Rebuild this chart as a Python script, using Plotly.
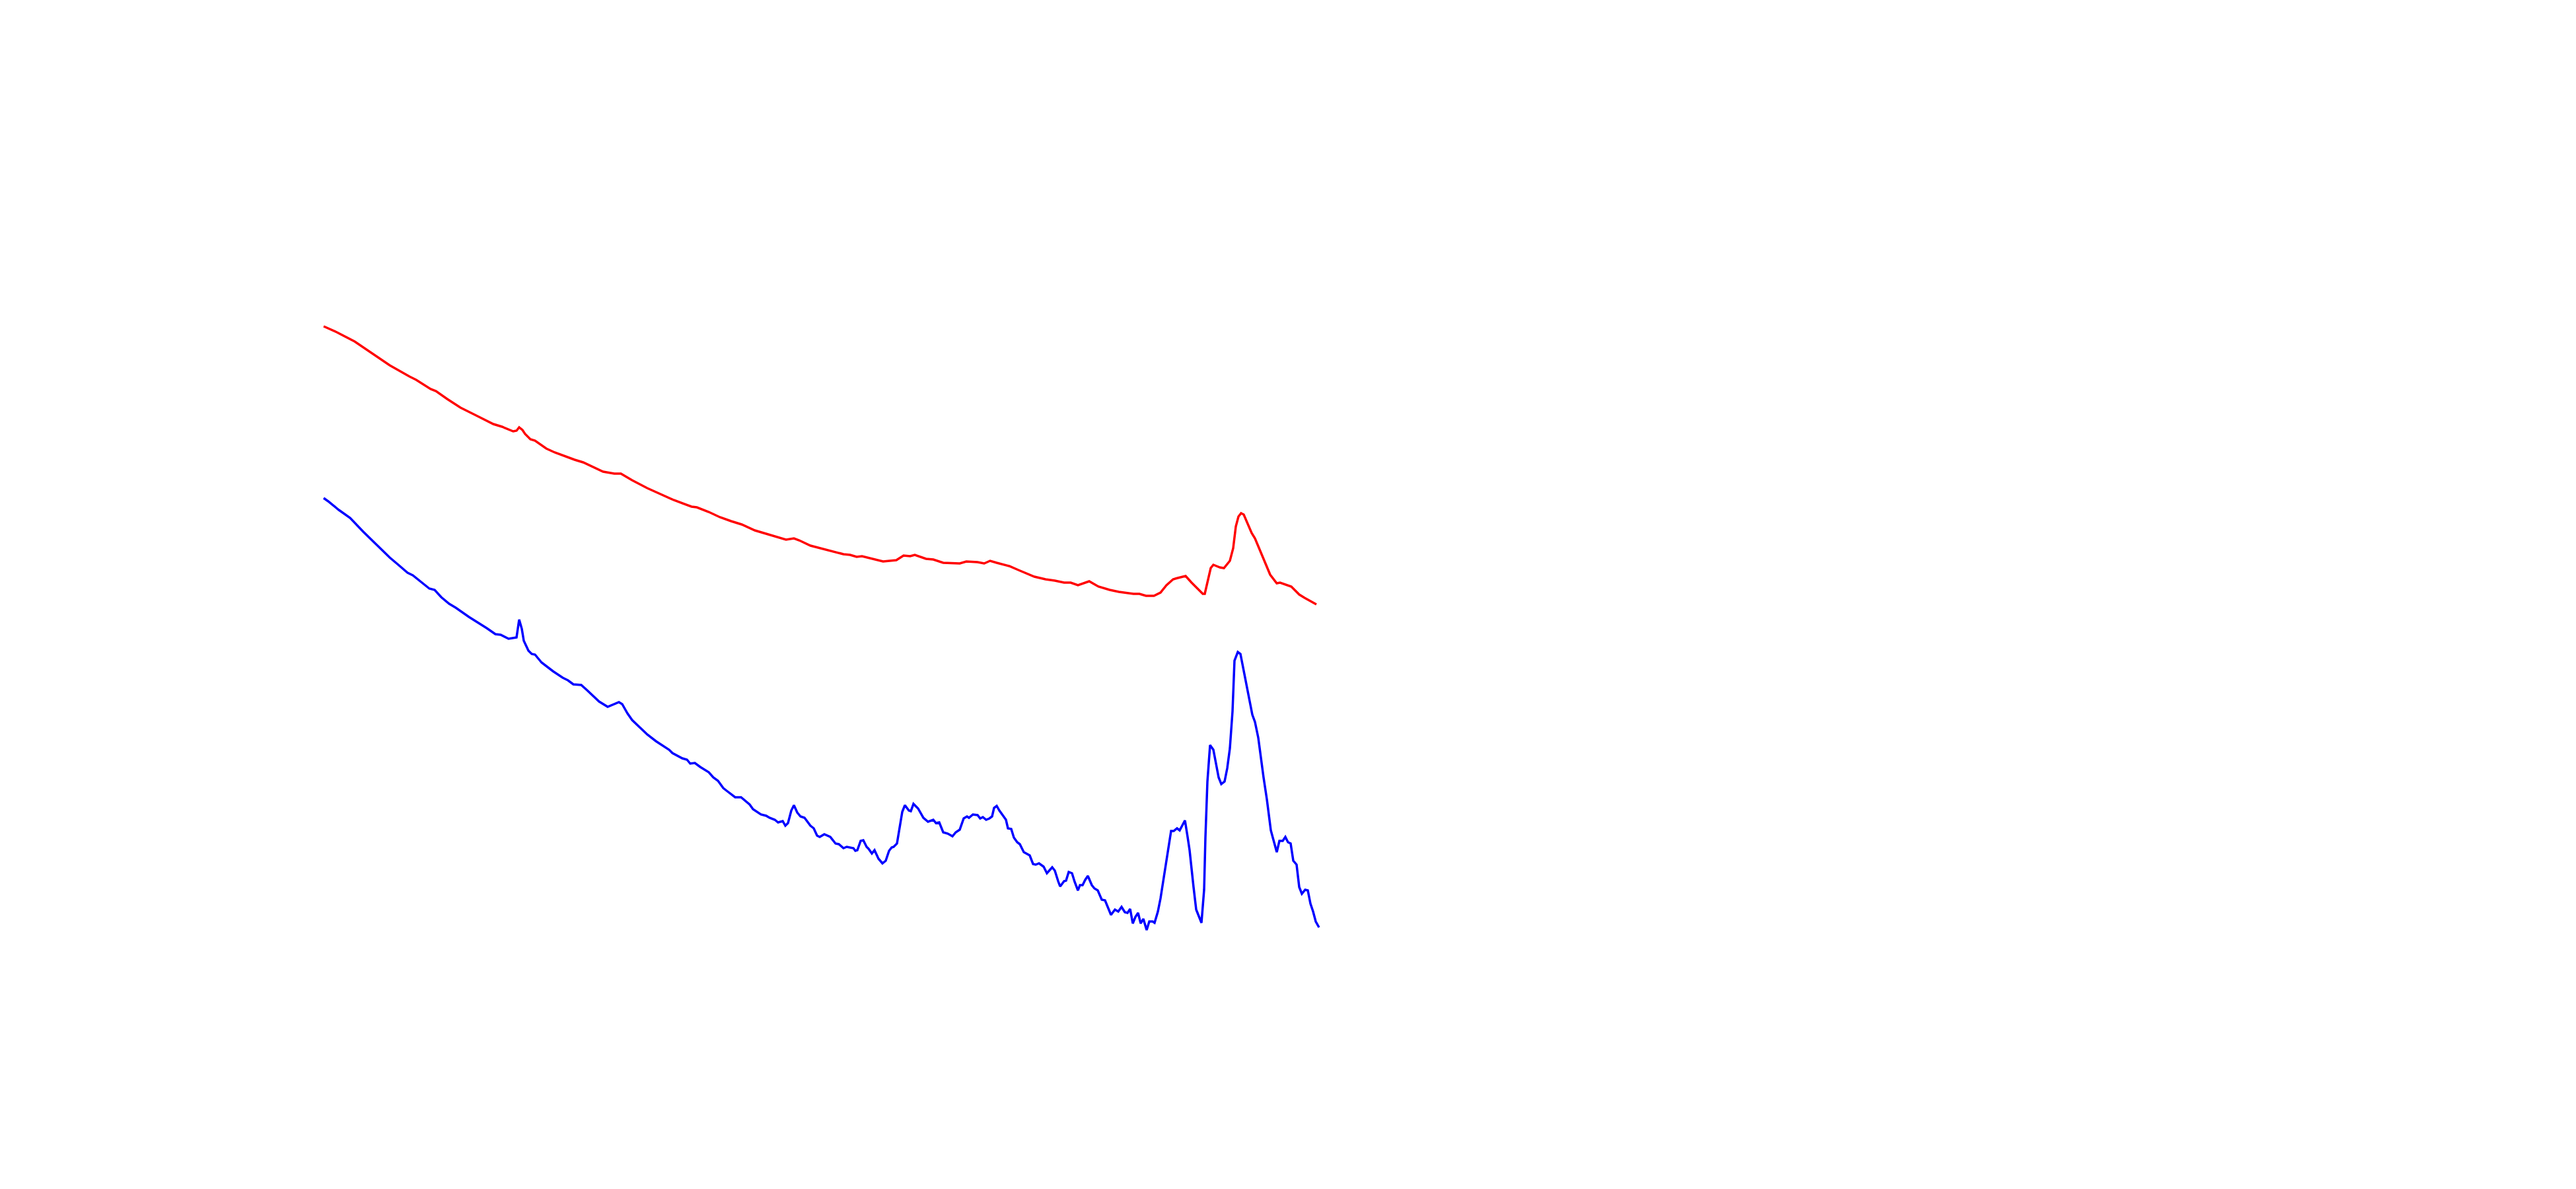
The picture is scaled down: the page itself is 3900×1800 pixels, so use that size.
import plotly.graph_objects as go

# Red spectrum (upper trace)
red_x = [400, 420, 447, 473, 500, 530, 540, 562, 570, 587, 607, 633, 657, 670, 687, 692, 696, 701, 705, 713,
         720, 737, 750, 780, 793, 823, 840, 850, 867, 890, 910, 930, 957, 965, 983, 1000, 1017, 1033, 1053, 1077,
         1100, 1112, 1120, 1137, 1167, 1187, 1197, 1207, 1215, 1230, 1247, 1267, 1278, 1288, 1295, 1312, 1323,
         1338, 1363, 1373, 1390, 1400, 1409, 1419, 1438, 1452, 1476, 1493, 1507, 1521, 1531, 1542, 1559, 1573,
         1590, 1604, 1617, 1626, 1635, 1645, 1657, 1667, 1676, 1686, 1693, 1705, 1714, 1731, 1734, 1743, 1747,
         1757, 1763, 1772, 1777, 1781, 1785, 1789, 1793, 1805, 1810, 1822, 1833, 1843, 1848, 1865, 1877, 1885, 1903]
red_y = [1306, 1297, 1283, 1265, 1247, 1230, 1225, 1211, 1208, 1196, 1183, 1170, 1158, 1154, 1147, 1148, 1153,
         1149, 1143, 1135, 1133, 1121, 1115, 1104, 1100, 1086, 1083, 1083, 1073, 1061, 1052, 1043, 1033, 1032,
         1025, 1017, 1011, 1006, 997, 990, 983, 985, 982, 974, 966, 961, 960, 957, 958, 954, 950, 952, 959, 958,
         960, 954, 953, 948, 947, 950, 949, 947, 951, 948, 943, 937, 927, 923, 921, 918, 918, 914, 920, 912, 907,
         904, 902, 901, 901, 898, 898, 903, 914, 923, 925, 928, 918, 901, 901, 940, 945, 941, 940, 951, 970, 1003,
         1018, 1023, 1021, 993, 985, 957, 930, 917, 918, 912, 900, 895, 885]

# Blue spectrum (lower trace)
blue_x = [400, 407, 423, 440, 460, 477, 493, 500, 513, 527, 535, 547, 560, 568, 578, 590, 600, 620, 633, 647,
          660, 668, 680, 692, 696, 700, 703, 710, 715, 720, 730, 747, 762, 770, 778, 790, 800, 808, 817, 830,
          838, 847, 852, 860, 867, 883, 890, 903, 913, 923, 928, 943, 950, 955, 962, 970, 983, 990, 997, 1005,
          1010, 1023, 1032, 1045, 1050, 1062, 1070, 1075, 1083, 1088, 1095, 1099, 1103, 1108, 1112, 1117, 1122,
          1128, 1137, 1142, 1147, 1151, 1158, 1167, 1175, 1180, 1187, 1192, 1202, 1205, 1208, 1213, 1217, 1222,
          1225, 1230, 1234, 1240, 1246, 1251, 1256, 1260, 1263, 1268, 1276, 1280, 1286, 1289, 1293, 1300, 1308,
          1315, 1323, 1327, 1332, 1338, 1345, 1352, 1357, 1363, 1369, 1374, 1377, 1383, 1390, 1394, 1398, 1403,
          1408, 1412, 1415, 1419, 1423, 1430, 1433, 1436, 1441, 1445, 1450, 1454, 1460, 1469, 1474, 1478, 1483,
          1490, 1495, 1503, 1507, 1512, 1515, 1521, 1524, 1528, 1533, 1537, 1542, 1545, 1549, 1553, 1557, 1563,
          1567, 1572, 1578, 1583, 1587, 1592, 1598, 1603, 1608, 1613, 1617, 1621, 1625, 1629, 1633, 1637, 1641,
          1646, 1650, 1655, 1658, 1663, 1667, 1675, 1683, 1687, 1692, 1696, 1704, 1708, 1711, 1717, 1721, 1729,
          1733, 1735, 1738, 1742, 1747, 1755, 1759, 1764, 1768, 1772, 1776, 1779, 1784, 1788, 1792, 1796, 1802,
          1806, 1810, 1815, 1823, 1828, 1834, 1838, 1843, 1847, 1852, 1856, 1860, 1864, 1868, 1873, 1877, 1881,
          1886, 1890, 1894, 1898, 1902, 1907]
blue_y = [1046, 1041, 1028, 1016, 995, 978, 963, 956, 945, 933, 929, 919, 909, 907, 896, 886, 880, 866, 858, 849,
          840, 839, 833, 835, 862, 848, 830, 815, 810, 809, 797, 784, 774, 770, 764, 763, 754, 747, 738, 730,
          733, 737, 734, 720, 710, 695, 688, 678, 672, 665, 660, 652, 650, 644, 645, 639, 631, 623, 618, 607,
          603, 593, 593, 582, 575, 567, 565, 562, 559, 555, 557, 550, 554, 573, 581, 570, 564,
          562, 550, 546, 535, 533, 537, 533, 523, 522, 516, 518, 516, 512, 513, 527, 528, 518,
          515, 508, 513, 500, 493, 497, 512, 517, 518, 523, 571, 581, 573, 572, 583, 576, 562,
          556, 559, 554, 555, 540, 538, 534, 540, 544, 561, 564, 562, 567, 566, 561, 563, 559,
          561, 564, 577, 580, 573, 563, 559, 546, 545, 532, 525, 522, 510, 505, 492, 491, 493,
          488, 478, 487, 482, 466, 458, 466, 467, 480, 478, 465, 452, 460, 460, 468, 474, 460,
          455, 452, 438, 437, 427, 415, 423, 420, 427, 419, 418, 424, 402, 412, 418, 402, 409,
          392, 405, 405, 403, 420, 440, 490, 542, 542, 546, 543, 558, 533, 513, 457, 423, 403,
          453, 533, 617, 672, 665, 623, 613, 617, 637, 667, 723, 800, 813, 810, 790, 770, 738,
          718, 707, 683, 623, 590, 543, 527, 510, 527, 527, 533, 525, 523, 497, 491, 457, 447,
          453, 452, 432, 420, 405, 396]

fig = go.Figure()
fig.add_trace(go.Scatter(x=red_x, y=red_y, mode="lines", line=dict(color="#ff0000", width=3.5), name="red"))
fig.add_trace(go.Scatter(x=blue_x, y=blue_y, mode="lines", line=dict(color="#0000ff", width=3.5), name="blue"))

fig.update_layout(
    width=3900, height=1800, autosize=False,
    margin=dict(l=0, r=0, t=0, b=0),
    paper_bgcolor="white", plot_bgcolor="white",
    showlegend=False,
    xaxis=dict(range=[-90, 3810], visible=False, fixedrange=True),
    yaxis=dict(range=[0, 1800], visible=False, fixedrange=True),
)

fig.write_html("out.html", post_script="document.body.style.margin='0';", config={"displayModeBar": False})
